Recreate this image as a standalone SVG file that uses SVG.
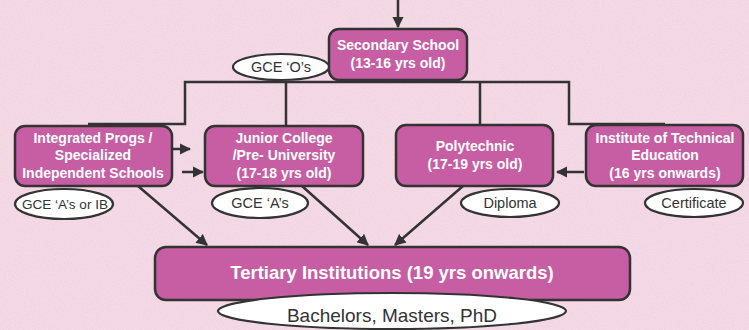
<svg xmlns="http://www.w3.org/2000/svg" width="749" height="330" viewBox="0 0 749 330">
<defs>
<filter id="tex" x="0" y="0" width="100%" height="100%">
<feTurbulence type="fractalNoise" baseFrequency="0.9" numOctaves="2" seed="3" result="n"/>
<feColorMatrix in="n" type="matrix" values="0 0 0 0 1  0 0 0 0 1  0 0 0 0 1  0 0 0 0.3 0" result="w"/>
<feComposite in="w" in2="SourceGraphic" operator="over"/>
</filter>
<marker id="ah" viewBox="0 0 10 10" refX="9" refY="5" markerWidth="4.6" markerHeight="4.6" orient="auto" markerUnits="strokeWidth">
<path d="M0,0 L10,5 L0,10 z" fill="#333"/>
</marker>
</defs>
<style>
.box{fill:#c75da3;stroke:#333;stroke-width:2.5}
.ell{fill:#fff;stroke:#333;stroke-width:2.2}
.bt{font-family:"Liberation Sans",Arial,sans-serif;font-weight:bold;font-size:14px;fill:#fff;text-anchor:middle}
.et{font-family:"Liberation Sans",Arial,sans-serif;font-size:14.5px;fill:#333;text-anchor:middle}
.ln{fill:none;stroke:#333;stroke-width:2.5}
.ar{fill:none;stroke:#333;stroke-width:2.5;marker-end:url(#ah)}
</style>
<rect width="749" height="330" fill="#f1d0df" filter="url(#tex)"/>
<g id="connectors">
<line class="ar" x1="398" y1="0" x2="398" y2="27"/>
<polyline class="ln" points="88,124 185,124 185,82 569,82 569,124 665,124"/>
<line class="ln" x1="286" y1="82" x2="286" y2="126"/>
<line class="ln" x1="480" y1="82" x2="480" y2="125"/>
<line class="ar" x1="163" y1="149" x2="190" y2="149"/>
<line class="ar" x1="182" y1="172" x2="203" y2="172"/>
<line class="ar" x1="584" y1="172" x2="557" y2="172"/>
<line class="ar" x1="138" y1="186" x2="207" y2="245"/>
<line class="ar" x1="302" y1="186" x2="368" y2="245"/>
<line class="ar" x1="463" y1="186" x2="395" y2="245"/>
</g>
<g id="secondary">
<rect class="box" x="329" y="29" width="138" height="51" rx="10"/>
<text class="bt" x="398" y="50">Secondary School</text>
<text class="bt" x="398" y="68">(13-16 yrs old)</text>
</g>
<g id="gce-o">
<ellipse class="ell" cx="281" cy="67" rx="48" ry="13"/>
<text class="et" x="281" y="72">GCE ‘O’s</text>
</g>
<g id="integrated">
<rect class="box" x="15" y="126" width="157" height="60" rx="10"/>
<text class="bt" x="93" y="143">Integrated Progs /</text>
<text class="bt" x="93" y="160">Specialized</text>
<text class="bt" x="93" y="178">Independent Schools</text>
</g>
<g id="gce-a-ib">
<ellipse class="ell" cx="64" cy="204" rx="49" ry="15"/>
<text class="et" x="65" y="209" style="font-size:13.5px">GCE ‘A’s or IB</text>
</g>
<g id="junior">
<rect class="box" x="205" y="126" width="158" height="60" rx="10"/>
<text class="bt" x="284" y="143">Junior College</text>
<text class="bt" x="284" y="160">/Pre- University</text>
<text class="bt" x="284" y="178">(17-18 yrs old)</text>
</g>
<g id="gce-a">
<ellipse class="ell" cx="260" cy="203" rx="48" ry="15"/>
<text class="et" x="260" y="208">GCE ‘A’s</text>
</g>
<g id="poly">
<rect class="box" x="396" y="125" width="157" height="61" rx="10"/>
<text class="bt" x="475" y="151">Polytechnic</text>
<text class="bt" x="475" y="169">(17-19 yrs old)</text>
</g>
<g id="diploma">
<ellipse class="ell" cx="510" cy="203" rx="49" ry="14"/>
<text class="et" x="510" y="208">Diploma</text>
</g>
<g id="ite">
<rect class="box" x="586" y="125" width="157" height="61" rx="10"/>
<text class="bt" x="665" y="143">Institute of Technical</text>
<text class="bt" x="665" y="160">Education</text>
<text class="bt" x="665" y="178">(16 yrs onwards)</text>
</g>
<g id="certificate">
<ellipse class="ell" cx="694" cy="203" rx="49" ry="14"/>
<text class="et" x="694" y="208">Certificate</text>
</g>
<g id="tertiary">
<rect class="box" x="155" y="247" width="475" height="53" rx="11"/>
<text class="bt" x="392" y="279" style="font-size:18.5px">Tertiary Institutions (19 yrs onwards)</text>
</g>
<g id="degrees">
<ellipse class="ell" cx="392" cy="311" rx="174" ry="18"/>
<text class="et" x="392" y="322" style="font-size:19px">Bachelors, Masters, PhD</text>
</g>
</svg>
